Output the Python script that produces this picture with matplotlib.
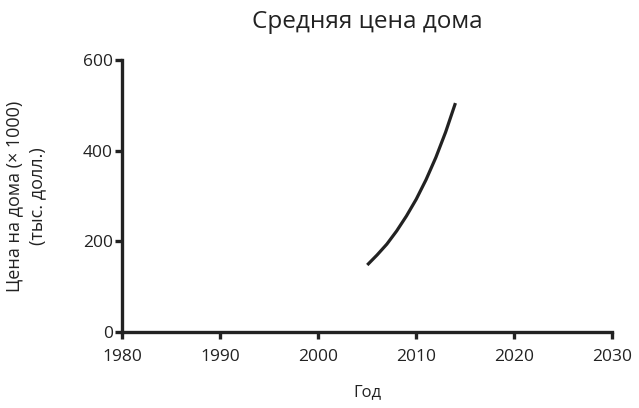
import numpy as np
import matplotlib.pyplot as plt

# average house price, thousands of dollars
years = [2005, 2006, 2007, 2008, 2009, 2010, 2011, 2012, 2013, 2014]
prices = [148, 170, 194, 223, 256, 293, 336, 385, 441, 505]

plt.rcParams["font.family"] = ["Open Sans", "DejaVu Sans"]
ink = "#222222"

fig = plt.figure(figsize=(6.39, 4.08), dpi=100)
ax = fig.add_axes([0.1915, 0.186, 0.7665, 0.667])

ax.plot(years, prices, color=ink, linewidth=2.3, solid_capstyle="butt")

ax.set_xlim(1980, 2030)
ax.set_ylim(0, 600)
ax.set_xticks([1980, 1990, 2000, 2010, 2020, 2030])
ax.set_yticks([0, 200, 400, 600])

for side in ["top", "right"]:
    ax.spines[side].set_visible(False)
for side in ["left", "bottom"]:
    ax.spines[side].set_linewidth(2.4)
    ax.spines[side].set_color(ink)
    ax.spines[side].set_capstyle("projecting")

ax.tick_params(axis="both", length=5, width=2.4, color=ink, labelsize=12.5,
               labelcolor=ink)
ax.tick_params(axis="x", pad=7)
ax.tick_params(axis="y", pad=2)

ax.set_title("Средняя цена дома", fontsize=17.5, color=ink, pad=23)
ax.set_xlabel("Год", fontsize=12, color=ink, labelpad=14)
ax.set_ylabel("Цена на дома (× 1000)\n(тыс. долл.)", fontsize=13, color=ink,
              labelpad=26, linespacing=1.35)

fig.savefig("out.png", dpi=100)
